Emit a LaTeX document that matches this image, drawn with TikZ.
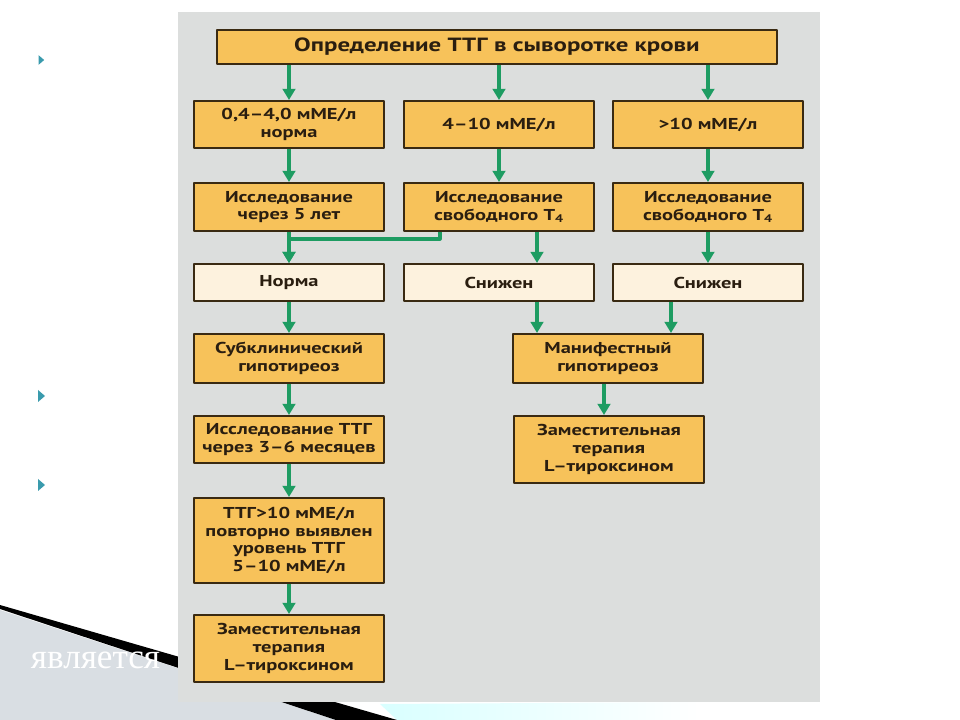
\documentclass[tikz,border=0pt]{standalone}
\usepackage{fontspec}
\setmainfont{PT Sans}[FakeStretch=1.3]
\newfontfamily\slidefont{Liberation Serif}
\usetikzlibrary{arrows.meta}
\definecolor{panel}{HTML}{DCDEDD}
\definecolor{boxfill}{HTML}{F7C25A}
\definecolor{boxpale}{HTML}{FDF2DE}
\definecolor{boxline}{HTML}{3A2A12}
\definecolor{arrgreen}{HTML}{1E9C62}
\definecolor{bullet}{HTML}{3A9BAD}
\definecolor{txt}{HTML}{2A1E10}
\definecolor{hatch}{HTML}{D9DEE3}
\tikzset{
  box/.style={draw=boxline, line width=1.4pt, fill=boxfill, text=txt, align=center,
    minimum width=4.75cm, inner sep=1pt, font=\bfseries\fontsize{11.2}{12.5}\selectfont},
  pale/.style={box, fill=boxpale},
  arr/.style={draw=arrgreen, line width=2.2pt, -{Triangle[length=8pt,width=9pt]}},
}
\begin{document}
\begin{tikzpicture}[x=0.025cm, y=-0.025cm, line join=round]
  \useasboundingbox (0,0) rectangle (960,720);
  \fill[white] (0,0) rectangle (960,720);
  % slide decoration
  \fill[hatch] (0,610) -- (336,720) -- (0,720) -- cycle;
  \shade[left color=cyan!15, right color=white] (380,704) -- (700,702) -- (700,720) -- (397,720) -- cycle;
  \fill[black] (0,605) -- (397,720) -- (336,720) -- (0,609) -- cycle;
  \node[text=white, font=\slidefont\fontsize{25}{25}\selectfont, anchor=base west] (slidetext) at (26,668) {является};
  \foreach \yb/\s in {60/0.8, 396/1, 485/1}
    \fill[bullet, shift={(41,\yb)}, scale=\s] (-3,-6) -- (4,0) -- (-3,6) -- cycle;
  % panel
  \fill[panel] (178,12) rectangle (820,702);
  % nodes
  \node[box, minimum width=14cm, minimum height=0.85cm, font=\bfseries\fontsize{13.6}{14}\selectfont] (ttg) at (497,47) {Определение ТТГ в сыворотке крови};
  \node[box, minimum height=1.175cm] (low) at (289,124.5) {0,4–4,0 мМЕ/л\\норма};
  \node[box, minimum height=1.175cm] (mid) at (499,124.5) {4–10 мМЕ/л};
  \node[box, minimum height=1.175cm] (high) at (708,124.5) {>10 мМЕ/л};
  \node[box, minimum height=1.2cm] (five) at (289,207) {Исследование\\через 5 лет};
  \node[box, minimum height=1.2cm] (tfour) at (499,207) {Исследование\\свободного Т\textsubscript{4}};
  \node[box, minimum height=1.2cm] (tfourb) at (708,207) {Исследование\\свободного Т\textsubscript{4}};
  \node[pale, minimum height=0.925cm] (norm) at (289,282.5) {Норма};
  \node[pale, minimum height=0.925cm] (down) at (499,282.5) {Снижен};
  \node[pale, minimum height=0.925cm] (downb) at (708,282.5) {Снижен};
  \node[box, minimum height=1.225cm] (subcl) at (289,358.5) {Субклинический\\гипотиреоз};
  \node[box, minimum height=1.225cm] (manif) at (608,358.5) {Манифестный\\гипотиреоз};
  \node[box, minimum height=1.175cm] (recheck) at (289,439.5) {Исследование ТТГ\\через 3–6 месяцев};
  \node[box, minimum height=1.675cm] (therb) at (609,449.5) {Заместительная\\терапия\\L–тироксином};
  \node[box, minimum height=2.125cm] (again) at (289,540.5) {ТТГ>10 мМЕ/л\\повторно выявлен\\уровень ТТГ\\5–10 мМЕ/л};
  \node[box, minimum height=1.675cm] (ther) at (289,648.5) {Заместительная\\терапия\\L–тироксином};
  % arrows
  \foreach \a/\b in {low/five, five/norm, norm/subcl, subcl/recheck, recheck/again, again/ther, high/tfourb, tfourb/downb, mid/tfour}
    \draw[arr] (\a) -- (\b);
  \draw[arr] (ttg.south -| low) -- (low);
  \draw[arr] (ttg.south -| mid) -- (mid);
  \draw[arr] (ttg.south -| high) -- (high);
  \draw[arr] ([xshift=-1.475cm]tfour.south) -- ++(0,7) -| (norm);
  \draw[arr] ([xshift=0.95cm]tfour.south) -- ([xshift=0.95cm]down.north);
  \draw[arr] ([xshift=0.95cm]down.south) -- ([xshift=0.95cm]down.south |- manif.north);
  \draw[arr] ([xshift=-0.925cm]downb.south) -- ([xshift=-0.925cm]downb.south |- manif.north);
  \draw[arr] ([xshift=-0.1cm]manif.south) -- ([xshift=-0.1cm]manif.south |- therb.north);
\end{tikzpicture}
\end{document}
